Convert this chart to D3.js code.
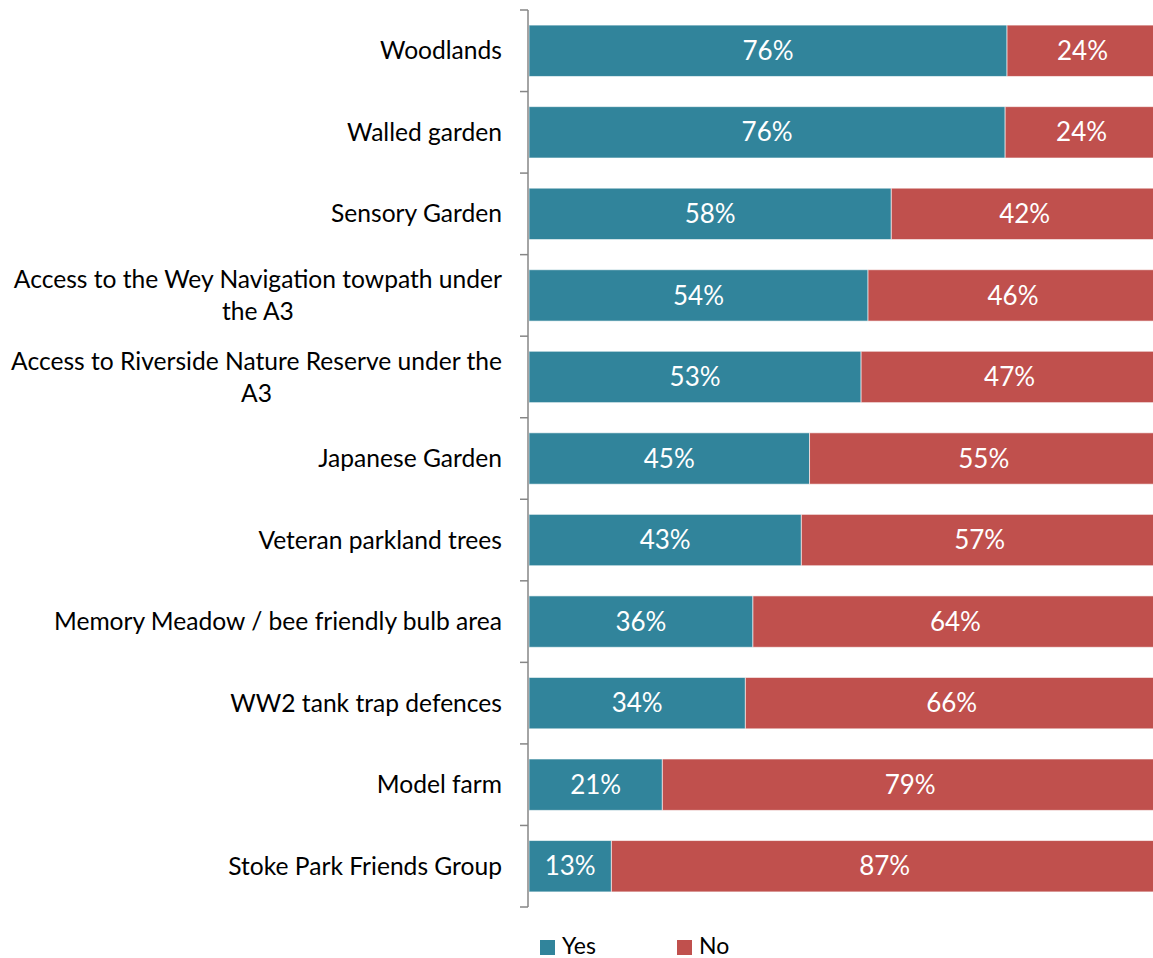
<!DOCTYPE html>
<html>
<head>
<meta charset="utf-8">
<script src="https://cdn.jsdelivr.net/npm/d3@7/dist/d3.min.js"></script>
<style>
  html, body { margin: 0; padding: 0; background: #ffffff; }
  svg { display: block; }
  text { font-family: Lato, "Open Sans", sans-serif; }
</style>
</head>
<body>
<svg id="chart" width="1153" height="958"></svg>
<script>
const categories = [
  "Woodlands",
  "Walled garden",
  "Sensory Garden",
  "Access to the Wey Navigation towpath under|the A3",
  "Access to Riverside Nature Reserve under the|A3",
  "Japanese Garden",
  "Veteran parkland trees",
  "Memory Meadow / bee friendly bulb area",
  "WW2 tank trap defences",
  "Model farm",
  "Stoke Park Friends Group"
];
const yesValues = [76.0, 75.7, 57.6, 53.9, 52.8, 44.6, 43.3, 35.6, 34.4, 21.2, 13.1];
const noValues  = [24.0, 24.3, 42.4, 46.1, 47.2, 55.4, 56.7, 64.4, 65.6, 78.8, 86.9];
const seriesNames = ["Yes", "No"];
const seriesColors = ["#31849B", "#C0504D"];

const svg = d3.select("#chart");
const x = d3.scaleLinear().domain([0, 100]).range([529, 1158]);
const y = d3.scaleBand().domain(categories).range([10, 907])
  .paddingInner(0.37).paddingOuter(0.185);

const rows = categories.map((c, i) => ({cat: c, yes: yesValues[i], no: noValues[i]}));
const stack = d3.stack().keys(["yes", "no"])(rows);

const groups = svg.append("g").selectAll("g").data(stack).join("g")
  .attr("fill", (d, i) => seriesColors[i]);

groups.selectAll("rect").data(d => d).join("rect")
  .attr("x", d => x(d[0]))
  .attr("y", d => y(d.data.cat))
  .attr("width", d => x(d[1]) - x(d[0]))
  .attr("height", y.bandwidth())
  .attr("stroke", "#ffffff")
  .attr("stroke-opacity", 0.6)
  .attr("stroke-width", 1);

groups.selectAll("text").data(d => d).join("text")
  .attr("x", d => (x(d[0]) + x(d[1])) / 2)
  .attr("y", d => y(d.data.cat) + y.bandwidth() / 2)
  .attr("dy", "0.35em")
  .attr("text-anchor", "middle")
  .attr("fill", "#ffffff")
  .attr("font-size", 26)
  .text(d => d3.format(".0f")(d[1] - d[0]) + "%");

// axis
const axis = svg.append("g");
axis.append("line")
  .attr("x1", 528).attr("x2", 528)
  .attr("y1", y.range()[0]).attr("y2", y.range()[1])
  .attr("stroke", "#868686").attr("stroke-width", 1.5);
const bounds = categories.map(c => y(c) - y.step() * y.paddingInner() / 2);
bounds.push(y.range()[1]);
bounds[0] = y.range()[0];
axis.selectAll("line.tick").data(bounds).join("line")
  .attr("class", "tick")
  .attr("x1", 520).attr("x2", 528)
  .attr("y1", d => d).attr("y2", d => d)
  .attr("stroke", "#868686").attr("stroke-width", 1.5);

// category labels
const labelX = 502;
const catFont = 24.6;
const lab = svg.append("g").selectAll("text").data(categories).join("text")
  .attr("font-size", catFont)
  .attr("fill", "#000000");
lab.each(function(c) {
  const parts = c.split("|");
  const t = d3.select(this);
  const cy = y(c) + y.bandwidth() / 2;
  const lh = 32;
  if (parts.length === 1) {
    t.attr("x", labelX).attr("y", cy).attr("dy", "0.35em")
      .attr("text-anchor", "end").text(parts[0]);
  } else {
    const tmp = svg.append("text").attr("font-size", catFont).text(parts[0]);
    const w = tmp.node().getComputedTextLength();
    tmp.remove();
    const center = labelX - w / 2;
    t.attr("text-anchor", "middle");
    parts.forEach((p, k) => {
      t.append("tspan").attr("x", center)
        .attr("y", cy + (k - (parts.length - 1) / 2) * lh)
        .attr("dy", "0.35em").text(p);
    });
  }
});

// legend
const legendX = [540, 677];
const leg = svg.append("g").selectAll("g").data(seriesNames).join("g")
  .attr("transform", (d, i) => `translate(${legendX[i]},940)`);
leg.append("rect").attr("width", 15).attr("height", 15)
  .attr("fill", (d, i) => seriesColors[i]);
leg.append("text").attr("x", 22).attr("y", 6).attr("dy", "0.35em")
  .attr("font-size", 23).attr("fill", "#000").text(d => d);
</script>
</body>
</html>
